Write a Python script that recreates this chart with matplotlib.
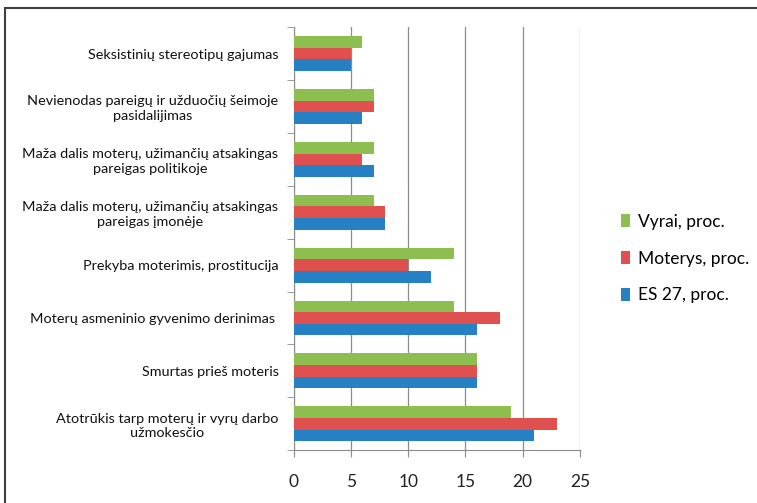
import matplotlib.pyplot as plt
import numpy as np
from matplotlib.patches import Rectangle

# Data (top to bottom as shown in the chart)
categories = [
    "Seksistinių stereotipų gajumas",
    "Nevienodas pareigų ir užduočių šeimoje\npasidalijimas",
    "Maža dalis moterų, užimančių atsakingas\npareigas politikoje",
    "Maža dalis moterų, užimančių atsakingas\npareigas įmonėje",
    "Prekyba moterimis, prostitucija",
    "Moterų asmeninio gyvenimo derinimas ",
    "Smurtas prieš moteris",
    "Atotrūkis tarp moterų ir vyrų darbo\nužmokesčio",
]
es27 = [5, 6, 7, 8, 12, 16, 16, 21]
moterys = [5, 7, 6, 8, 10, 18, 16, 23]
vyrai = [6, 7, 7, 7, 14, 14, 16, 19]
x_ticks = [0, 5, 10, 15, 20, 25]

plt.rcParams['font.family'] = ['Lato', 'DejaVu Sans']

fig = plt.figure(figsize=(7.57, 5.03), dpi=100)
ax = fig.add_axes([0.388, 0.105, 0.378, 0.841])

# outer chart frame
fig.patches.append(Rectangle((0.007, -0.01), 1.0, 0.994, transform=fig.transFigure,
                             fill=False, edgecolor='#404040', linewidth=1.5))

n = len(categories)
pos = np.arange(n)[::-1]
h = 0.22
ax.barh(pos - h, es27, height=h, color='#2681C4', label='ES 27, proc.', zorder=3)
ax.barh(pos, moterys, height=h, color='#E0504F', label='Moterys, proc.', zorder=3)
ax.barh(pos + h, vyrai, height=h, color='#8DBE50', label='Vyrai, proc.', zorder=3)

ax.set_xlim(0, 25)
ax.set_ylim(-0.5, n - 0.5)
ax.set_xticks(x_ticks)
ax.set_xticklabels([str(t) for t in x_ticks], fontsize=12.5, color='#222222')
ax.grid(axis='x', color='#8c8c8c', linewidth=0.9, zorder=0)

ax.set_yticks(pos)
ax.set_yticklabels(categories, fontsize=10.4, linespacing=1.25, color='#111111')
for lbl in ax.get_yticklabels():
    lbl.set_multialignment('center')
ax.tick_params(axis='y', length=0, pad=11)
ax.set_yticks(np.arange(n + 1) - 0.5, minor=True)
ax.tick_params(axis='y', which='minor', length=5, color='#8c8c8c', direction='out')
ax.tick_params(axis='x', length=5, color='#8c8c8c', pad=12)

for s in ['top', 'right']:
    ax.spines[s].set_visible(False)
ax.spines['left'].set_color('#8c8c8c')
ax.spines['bottom'].set_color('#8c8c8c')

handles, labels = ax.get_legend_handles_labels()
ax.legend(handles[::-1], labels[::-1], loc='center left', bbox_to_anchor=(0.82, 0.486),
          bbox_transform=fig.transFigure, frameon=False, fontsize=12.5,
          handlelength=0.55, handleheight=0.8, handletextpad=0.45, labelspacing=1.2,
          borderpad=0, borderaxespad=0)

fig.savefig('out.png', dpi=100)
